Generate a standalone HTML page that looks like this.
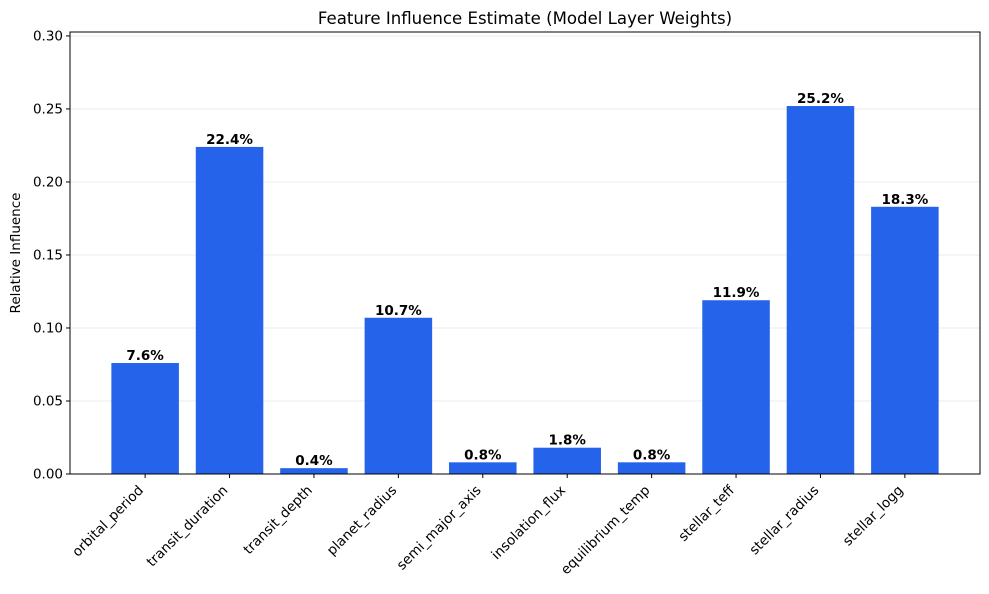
<!DOCTYPE html>
<html><head><meta charset="utf-8"><style>
body{margin:0;background:#fff;font-family:"DejaVu Sans","Liberation Sans",sans-serif;}
</style></head><body>
<svg id="chart" width="989" height="590" xmlns="http://www.w3.org/2000/svg" font-family="DejaVu Sans, Liberation Sans, sans-serif"></svg>
<script>
const categories=["orbital_period","transit_duration","transit_depth","planet_radius","semi_major_axis","insolation_flux","equilibrium_temp","stellar_teff","stellar_radius","stellar_logg"];
const values=[0.076,0.224,0.004,0.107,0.008,0.018,0.008,0.119,0.252,0.183];
const valueLabels=["7.6%","22.4%","0.4%","10.7%","0.8%","1.8%","0.8%","11.9%","25.2%","18.3%"];
const yTicks=[0,0.05,0.10,0.15,0.20,0.25,0.30];
const yTickLabels=["0.00","0.05","0.10","0.15","0.20","0.25","0.30"];

const svg=document.getElementById('chart');
const NS="http://www.w3.org/2000/svg";
const L=70,R=980,T=32,B=474;
const yMax=0.3027, xMin=-0.89, xMax=9.89;
const y=v=>B-(v/yMax)*(B-T);
const x=i=>L+(i-xMin)/(xMax-xMin)*(R-L);
const bw=0.8*(R-L)/(xMax-xMin);
function mk(tag,attrs,text){const e=document.createElementNS(NS,tag);for(const k in attrs)e.setAttribute(k,attrs[k]);if(text!==undefined)e.textContent=text;svg.appendChild(e);return e;}

let t=mk('text',{x:(L+R)/2,y:24,'text-anchor':'middle','font-size':16.6,fill:'#000'},'Feature Influence Estimate (Model Layer Weights)');



yTicks.forEach((v,i)=>{
  const g=mk('line',{x1:L,x2:R,y1:y(v),y2:y(v),stroke:'#ebebeb','stroke-width':1});
  
  
  const tk=mk('line',{x1:L-4,x2:L,y1:y(v),y2:y(v),stroke:'#000'});
  
  
  const lb=mk('text',{x:L-7,y:y(v)+4.5,'text-anchor':'end','font-size':13.5},yTickLabels[i]);
  
  
});

categories.forEach((c,i)=>{
  const r=mk('rect',{x:x(i)-bw/2,y:y(values[i]),width:bw,height:B-y(values[i]),fill:'#2563eb'});
  
  
  const vl=mk('text',{x:x(i),y:y(values[i])-3,'text-anchor':'middle','font-size':13.5,'font-weight':'bold'},valueLabels[i]);
  
  
  const tk=mk('line',{x1:x(i),x2:x(i),y1:B,y2:B+4,stroke:'#000'});
  
  
  const ax=x(i)-1, ay=B+17;
  const cl=mk('text',{x:ax,y:ay,'text-anchor':'end','font-size':13.6,transform:`rotate(-45 ${ax} ${ay})`},c);
  
  
});

const fr=mk('rect',{x:L,y:T,width:R-L,height:B-T,fill:'none',stroke:'#000','stroke-width':1});



const yl=mk('text',{x:20,y:(T+B)/2,'text-anchor':'middle','font-size':13.5,transform:`rotate(-90 20 ${(T+B)/2})`},'Relative Influence');


</script>
</body></html>
